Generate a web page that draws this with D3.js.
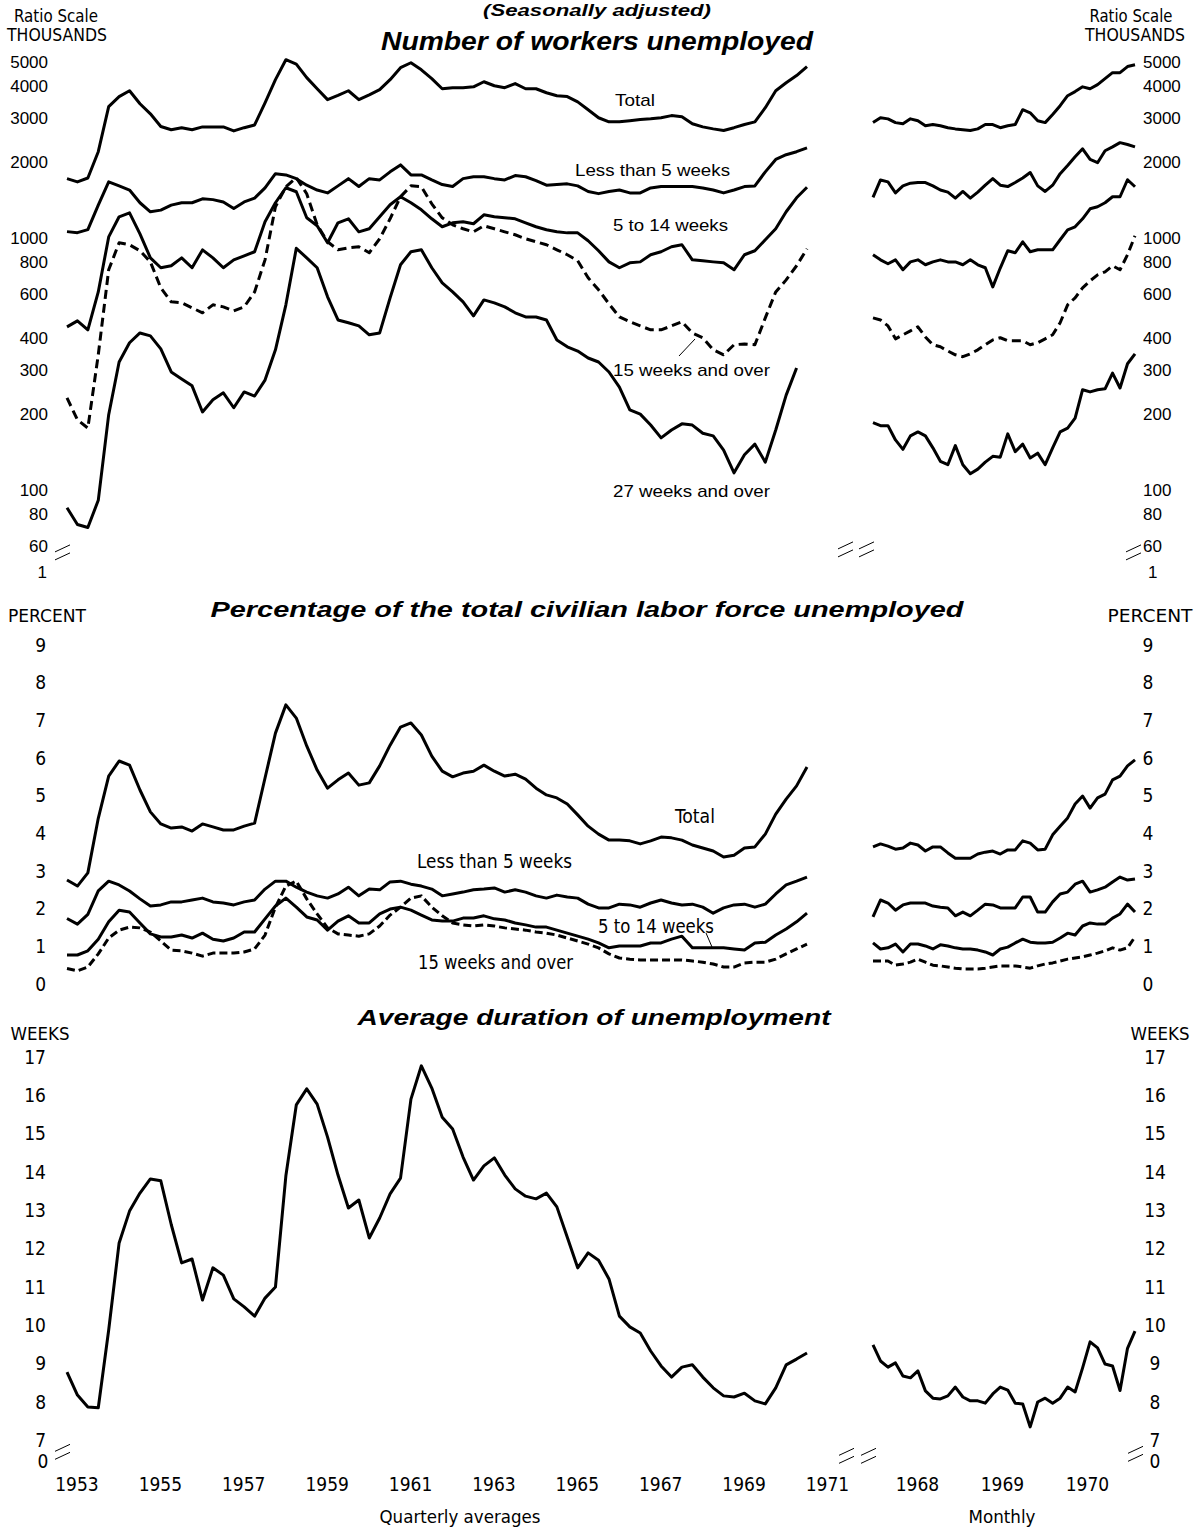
<!DOCTYPE html>
<html>
<head>
<meta charset="utf-8">
<script src="https://cdn.jsdelivr.net/npm/d3@7/dist/d3.min.js"></script>
<style>
body{margin:0;background:#fff;}
</style>
</head>
<body>
<svg id="chart" width="1196" height="1529"></svg>
<script>
/* ======== data (thousands, percent, weeks) ======== */
var firstYear = 1953;
var yearLabels = [1953,1955,1957,1959,1961,1963,1965,1967,1969,1971];
var monthYearLabels = ['1968','1969','1970'];
var thousandTicks = [5000,4000,3000,2000,1000,800,600,400,300,200,100,80,60];
var percentTicks = [0,1,2,3,4,5,6,7,8,9];
var weekTicks = [7,8,9,10,11,12,13,14,15,16,17];

// quarterly averages, 1953 Q1 - 1970 Q4
var totalQ = [1720,1670,1730,2200, 3320,3640,3840,3410, 3110,2770,2690,2740, 2690,2760,2760,2760,
	2660,2740,2810,3440, 4250,5100,4900,4330, 3910,3540,3680,3840, 3540,3700,3880,4250,
	4740,4960,4650,4290, 3910,3950,3950,3980, 4170,4020,3950,4100, 3910,3910,3770,3670,
	3640,3470,3230,3000, 2890,2890,2920,2950, 2970,3000,3060,3030, 2840,2760,2710,2670,
	2740,2820,2890,3290, 3840,4130,4410,4790];
var lessThan5Q = [1060,1050,1080,1350, 1670,1610,1550,1380, 1270,1290,1350,1380, 1380,1430,1420,1390,
	1310,1390,1440,1580, 1800,1780,1720,1620, 1550,1510,1610,1720, 1600,1720,1700,1830,
	1950,1780,1780,1700, 1630,1600,1720,1750, 1750,1720,1700,1770, 1750,1690,1620,1630,
	1640,1610,1530,1500, 1530,1550,1510,1510, 1580,1600,1600,1600, 1600,1580,1550,1510,
	1550,1600,1610,1830, 2050,2140,2200,2280];
var fiveTo14Q = [444,469,432,611, 1010,1214,1259,1039, 834,762,776,834, 762,897,834,762,
	819,850,882,1160, 1380,1583,1526,1203, 1118,957,1149,1192, 1058,1088,1214,1355,
	1458,1380,1294,1192, 1108,1149,1160,1139, 1236,1214,1203,1192, 1149,1108,1078,1058,
	1048,1048,975,890, 804,762,797,804, 858,882,923,940, 819,812,804,797,
	748,858,890,984, 1088,1271,1444,1590];
var fifteenPlusQ = [232,190,176,344, 748,957,940,890, 804,634,558,553, 528,505,543,533,
	514,533,611,819, 1330,1597,1734,1498, 1128,966,898,914, 923,874,993,1192,
	1458,1611,1597,1367, 1203,1128,1088,1058, 1118,1088,1058,1030, 993,966,940,898,
	858,812,695,623, 548,486,465,448, 432,432,448,465, 420,402,360,344,
	377,380,377,482, 611,682,776,906];
var twentySevenPlusQ = [85,73,71,91, 199,322,384,420, 409,363,294,276, 259,204,228,243,
	212,245,236,273, 360,543,910,834, 762,584,473,461, 448,413,420,579,
	783,882,898,762, 664,611,558,491, 568,553,533,505, 486,486,473,394,
	370,356,334,322, 294,256,208,200, 181,161,173,183, 181,168,164,144,
	117,138,152,129, 173,238,305];

// monthly, Jan 1968 - Dec 1970
var totalM = [2870,3000,2970,2870,2840,2970,2920,2790,2820,2790,2740,2710,
	2690,2670,2710,2820,2820,2740,2790,2820,3230,3140,2920,2870,
	3090,3350,3670,3810,3980,3910,4060,4290,4530,4530,4790,4870];
var lessThan5M = [1450,1700,1670,1510,1610,1650,1660,1660,1610,1550,1520,1440,
	1530,1440,1520,1620,1720,1620,1600,1660,1730,1820,1610,1530,
	1620,1800,1940,2100,2260,2050,1990,2220,2300,2390,2350,2300];
var fiveTo14M = [858,819,790,819,748,804,819,783,804,819,804,804,
	783,819,783,762,640,760,890,874,966,882,898,898,
	898,984,1078,1108,1192,1306,1330,1380,1458,1458,1703,1597];
var fifteenPlusM = [482,473,448,398,413,428,444,405,377,370,356,344,
	338,347,360,377,394,402,391,391,391,377,384,398,
	413,461,543,579,634,676,714,734,776,748,858,1020];
var twentySevenPlusM = [185,180,180,158,145,164,170,164,147,130,126,150,
	126,116,121,129,136,135,167,142,152,134,140,126,
	147,170,176,193,250,245,250,252,291,254,317,347];

// percent of civilian labor force
var totalPctQ = [2.76,2.6,2.95,4.4, 5.52,5.92,5.81,5.15, 4.57,4.25,4.14,4.17, 4.06,4.25,4.17,4.09,
	4.09,4.19,4.27,5.47, 6.66,7.41,7.06,6.32, 5.68,5.2,5.42,5.6, 5.28,5.34,5.79,6.34,
	6.82,6.93,6.61,6.05, 5.65,5.5,5.6,5.65, 5.81,5.65,5.52,5.57, 5.44,5.2,5.02,4.94,
	4.78,4.49,4.19,3.98, 3.82,3.82,3.8,3.72, 3.8,3.9,3.88,3.82, 3.69,3.61,3.53,3.37,
	3.42,3.61,3.64,3.98, 4.51,4.91,5.26,5.76];
var lessThan5PctQ = [1.74,1.59,1.85,2.47, 2.73,2.63,2.47,2.26, 2.07,2.1,2.18,2.18, 2.23,2.28,2.18,2.15,
	2.1,2.18,2.23,2.52, 2.73,2.73,2.57,2.44, 2.34,2.28,2.39,2.57, 2.34,2.52,2.5,2.71,
	2.73,2.65,2.6,2.52, 2.34,2.39,2.44,2.5, 2.52,2.55,2.44,2.5, 2.44,2.34,2.28,2.36,
	2.31,2.28,2.12,2.02, 2.02,2.12,2.1,2.04, 2.15,2.23,2.15,2.1, 2.12,2.04,1.88,2.02,
	2.1,2.12,2.04,2.12, 2.39,2.63,2.73,2.84];
var fiveTo14PctQ = [0.77,0.77,0.88,1.19, 1.65,1.96,1.91,1.62, 1.33,1.25,1.25,1.3, 1.22,1.35,1.19,1.14,
	1.22,1.38,1.38,1.73, 2.07,2.28,2.04,1.78, 1.7,1.43,1.67,1.81, 1.62,1.62,1.86,1.99,
	2.04,1.96,1.83,1.7, 1.67,1.67,1.75,1.75, 1.81,1.73,1.7,1.62, 1.57,1.51,1.51,1.43,
	1.35,1.27,1.19,1.09, 0.96,1.01,1.01,1.01, 1.09,1.09,1.19,1.27, 0.96,0.96,0.96,0.96,
	0.93,0.9,1.09,1.11, 1.3,1.46,1.65,1.88];
var fifteenPlusPctQ = [0.41,0.35,0.45,0.8, 1.22,1.43,1.51,1.49, 1.38,1.14,0.9,0.88, 0.82,0.74,0.82,0.82,
	0.82,0.85,0.93,1.3, 2.04,2.6,2.73,2.26, 1.86,1.49,1.33,1.3, 1.27,1.33,1.54,1.83,
	2.04,2.28,2.34,2.04, 1.81,1.62,1.57,1.54, 1.57,1.54,1.49,1.46, 1.43,1.38,1.35,1.3,
	1.22,1.14,1.06,0.96, 0.8,0.69,0.66,0.64, 0.64,0.64,0.64,0.64, 0.61,0.58,0.53,0.45,
	0.45,0.56,0.58,0.58, 0.66,0.8,0.93,1.06];
var totalPctM = [3.64,3.72,3.66,3.58,3.61,3.74,3.69,3.53,3.64,3.64,3.48,3.34,
	3.34,3.34,3.45,3.5,3.53,3.45,3.56,3.56,3.8,3.74,3.56,3.58,
	3.96,4.19,4.41,4.78,4.99,4.67,4.94,5.04,5.42,5.52,5.79,5.95];
var lessThan5PctM = [1.78,2.23,2.15,1.96,2.1,2.15,2.15,2.15,2.07,2.04,2.02,1.81,
	1.91,1.81,1.96,2.12,2.1,2.02,2.02,2.02,2.31,2.31,1.91,1.91,
	2.18,2.39,2.44,2.65,2.73,2.44,2.5,2.57,2.71,2.84,2.76,2.79];
var fiveTo14PctM = [1.09,0.93,0.96,1.06,0.85,1.06,1.06,1.01,0.93,1.04,1.01,0.96,
	0.93,0.93,0.9,0.85,0.77,0.93,0.98,1.09,1.19,1.11,1.09,1.09,
	1.11,1.22,1.35,1.3,1.54,1.62,1.59,1.59,1.75,1.86,2.12,1.91];
var fifteenPlusPctM = [0.61,0.61,0.61,0.5,0.53,0.58,0.66,0.58,0.5,0.48,0.45,0.42,
	0.4,0.4,0.4,0.42,0.45,0.48,0.48,0.48,0.45,0.42,0.48,0.53,
	0.56,0.61,0.66,0.69,0.72,0.77,0.82,0.88,0.96,0.9,0.96,1.25];

// average duration (weeks)
var durationQ = [8.78,8.18,7.87,7.85, 9.88,12.15,12.98,13.45, 13.82,13.77,12.63,11.63, 11.73,10.66,11.5,11.31,
	10.69,10.48,10.24,10.71, 11.0,13.9,15.75,16.17, 15.77,14.91,13.92,13.06, 13.27,12.28,12.8,13.43,
	13.84,15.9,16.77,16.19, 15.43,15.12,14.39,13.79, 14.16,14.37,13.92,13.56, 13.37,13.3,13.45,13.09,
	12.3,11.5,11.89,11.7, 11.21,10.24,9.96,9.8, 9.33,8.94,8.65,8.91, 8.97,8.65,8.37,8.16,
	8.13,8.23,8.03,7.95, 8.37,8.97,9.12,9.28];
var durationM = [9.49,9.07,8.91,9.02,8.68,8.63,8.81,8.29,8.1,8.08,8.16,8.39,
	8.13,8.03,8.03,7.97,8.21,8.39,8.31,7.97,7.95,7.35,8.0,8.1,
	7.97,8.1,8.39,8.26,8.89,9.57,9.41,8.99,8.94,8.3,9.4,9.85];
/* ======== data ======== */

var svg = d3.select('#chart');
var fontReg = "'Liberation Sans', Arial, sans-serif";
var fontNarrow = "'Liberation Sans Narrow', 'DejaVu Sans Condensed', 'Liberation Sans', sans-serif";
var lineWidth = 3;

// scales
var xQ = d3.scaleLinear().domain([firstYear, 1970.75]).range([67, 807]);
var xM = d3.scaleLinear().domain([0, 35]).range([873, 1135]);
var xMonthYear = d3.scaleBand().domain(monthYearLabels).range([875, 1130]);
var yThou = d3.scaleLog().domain([100, 1000]).range([490, 238]);
var yPct = d3.scaleLinear().domain([0, 9]).range([984, 645]);
var yWeeks = d3.scaleLinear().domain([8, 17]).range([1402, 1057]);

function xQi(d, i){ return xQ(firstYear + i/4); }
function xMi(d, i){ return xM(i); }

function drawSeries(values, xFn, yScale, dash){
	var line = d3.line().x(xFn).y(function(d){ return yScale(d); });
	svg.append('path')
		.attr('d', line(values))
		.attr('fill', 'none')
		.attr('stroke', '#000')
		.attr('stroke-width', lineWidth)
		.attr('stroke-linejoin', 'round')
		.attr('stroke-dasharray', dash ? dash : null);
}

function addText(str, x, y, opts){
	var t = svg.append('text')
		.attr('x', x)
		.attr('y', y)
		.attr('font-family', opts.font || fontReg)
		.attr('font-size', opts.size || 17)
		.attr('fill', '#000')
		.attr('text-anchor', opts.anchor || 'start')
		.text(str);
	if(opts.bold) t.attr('font-weight', 'bold');
	if(opts.italic) t.attr('font-style', 'italic');
	if(opts.len) t.attr('textLength', opts.len).attr('lengthAdjust', 'spacingAndGlyphs');
	return t;
}

function drawAxis(scale, ticks, xLeft, xRight, font, size, fmt, rightAnchor){
	var left = d3.axisLeft(scale).tickValues(ticks).tickSize(0).tickPadding(0).tickFormat(fmt);
	var right = d3.axisRight(scale).tickValues(ticks).tickSize(0).tickPadding(0).tickFormat(fmt);
	var gl = svg.append('g').attr('transform', 'translate(' + xLeft + ',0)').call(left);
	var gr = svg.append('g').attr('transform', 'translate(' + xRight + ',0)').call(right);
	[gl, gr].forEach(function(g){
		g.select('.domain').remove();
		g.selectAll('text').attr('font-family', font).attr('font-size', size).attr('fill', '#000');
	});
	if(rightAnchor) gr.selectAll('text').attr('text-anchor', rightAnchor);
}

function breakMark(x, y){
	// small pair of slanted strokes marking a scale break
	[0, 8].forEach(function(off){
		svg.append('line')
			.attr('x1', x).attr('y1', y + off + 5)
			.attr('x2', x + 15).attr('y2', y + off - 2)
			.attr('stroke', '#000').attr('stroke-width', 1);
	});
}

/* ---------- header ---------- */
addText('(Seasonally adjusted)', 597, 16, {size: 16, bold: true, italic: true, anchor: 'middle', len: 228});

/* ---------- panel 1: number unemployed ---------- */
addText('Number of workers unemployed', 597, 50, {size: 25, bold: true, italic: true, anchor: 'middle', len: 432});
addText('Ratio Scale', 56, 22, {font: fontNarrow, size: 17, anchor: 'middle', len: 84});
addText('THOUSANDS', 57, 41, {font: fontNarrow, size: 17, anchor: 'middle', len: 100});
addText('Ratio Scale', 1131, 22, {font: fontNarrow, size: 17, anchor: 'middle', len: 83});
addText('THOUSANDS', 1135, 41, {font: fontNarrow, size: 17, anchor: 'middle', len: 100});

drawAxis(yThou, thousandTicks, 48, 1143, fontReg, 17, d3.format('d'));
addText('1', 47, 578, {size: 17, anchor: 'end'});
addText('1', 1148, 578, {size: 17});
breakMark(55, yThou(60) + 1);
breakMark(1126, yThou(60) + 1);
breakMark(838, yThou(60) - 2);
breakMark(859, yThou(60) - 2);

drawSeries(totalQ, xQi, yThou);
drawSeries(lessThan5Q, xQi, yThou);
drawSeries(fiveTo14Q, xQi, yThou);
drawSeries(fifteenPlusQ, xQi, yThou, '9,5');
drawSeries(twentySevenPlusQ, xQi, yThou);
drawSeries(totalM, xMi, yThou);
drawSeries(lessThan5M, xMi, yThou);
drawSeries(fiveTo14M, xMi, yThou);
drawSeries(fifteenPlusM, xMi, yThou, '9,5');
drawSeries(twentySevenPlusM, xMi, yThou);

addText('Total', 615, 106, {len: 40});
addText('Less than 5 weeks', 575, 176, {len: 155});
addText('5 to 14 weeks', 613, 231, {len: 115});
addText('15 weeks and over', 613, 376, {len: 157});
addText('27 weeks and over', 613, 497, {len: 157});
svg.append('line').attr('x1', 679).attr('y1', 356).attr('x2', 695).attr('y2', 339)
	.attr('stroke', '#000').attr('stroke-width', 1);

/* ---------- panel 2: percent of labor force ---------- */
addText('Percentage of the total civilian labor force unemployed', 587, 617, {size: 22, bold: true, italic: true, anchor: 'middle', len: 753});
addText('PERCENT', 47, 622, {font: fontNarrow, size: 18, anchor: 'middle', len: 78});
addText('PERCENT', 1150, 622, {font: fontNarrow, size: 18, anchor: 'middle', len: 85});
drawAxis(yPct, percentTicks, 46, 1148, fontNarrow, 19, d3.format('d'), 'middle');

drawSeries(totalPctQ, xQi, yPct);
drawSeries(lessThan5PctQ, xQi, yPct);
drawSeries(fiveTo14PctQ, xQi, yPct);
drawSeries(fifteenPlusPctQ, xQi, yPct, '8,4');
drawSeries(totalPctM, xMi, yPct);
drawSeries(lessThan5PctM, xMi, yPct);
drawSeries(fiveTo14PctM, xMi, yPct);
drawSeries(fifteenPlusPctM, xMi, yPct, '8,4');

addText('Total', 675, 823, {font: fontNarrow, size: 19, len: 40});
addText('Less than 5 weeks', 417, 868, {font: fontNarrow, size: 19, len: 155});
addText('5 to 14 weeks', 598, 933, {font: fontNarrow, size: 19, len: 116});
addText('15 weeks and over', 418, 969, {font: fontNarrow, size: 19, len: 155});
svg.append('line').attr('x1', 706).attr('y1', 933).attr('x2', 712).attr('y2', 947)
	.attr('stroke', '#000').attr('stroke-width', 1);

/* ---------- panel 3: average duration ---------- */
addText('Average duration of unemployment', 594, 1025, {size: 22, bold: true, italic: true, anchor: 'middle', len: 473});
addText('WEEKS', 40, 1040, {font: fontNarrow, size: 18, anchor: 'middle', len: 59});
addText('WEEKS', 1160, 1040, {font: fontNarrow, size: 18, anchor: 'middle', len: 59});
drawAxis(yWeeks, weekTicks, 46, 1155, fontNarrow, 19, d3.format('d'), 'middle');
addText('0', 43, 1468, {font: fontNarrow, size: 19, anchor: 'middle'});
addText('0', 1155, 1468, {font: fontNarrow, size: 19, anchor: 'middle'});
breakMark(55, yWeeks(7) + 6);
breakMark(1128, yWeeks(7) + 8);
breakMark(839, yWeeks(7) + 10);
breakMark(861, yWeeks(7) + 10);

drawSeries(durationQ, xQi, yWeeks);
drawSeries(durationM, xMi, yWeeks);

yearLabels.forEach(function(yr){
	addText(yr, xQ(yr) + 10, 1491, {font: fontNarrow, size: 19, anchor: 'middle'});
});
monthYearLabels.forEach(function(yr){
	addText(yr, xMonthYear(yr) + xMonthYear.bandwidth()/2, 1491, {font: fontNarrow, size: 19, anchor: 'middle'});
});
addText('Quarterly averages', 460, 1523, {font: fontNarrow, size: 18, anchor: 'middle', len: 161});
addText('Monthly', 1002, 1523, {font: fontNarrow, size: 18, anchor: 'middle', len: 67});
</script>
</body>
</html>
